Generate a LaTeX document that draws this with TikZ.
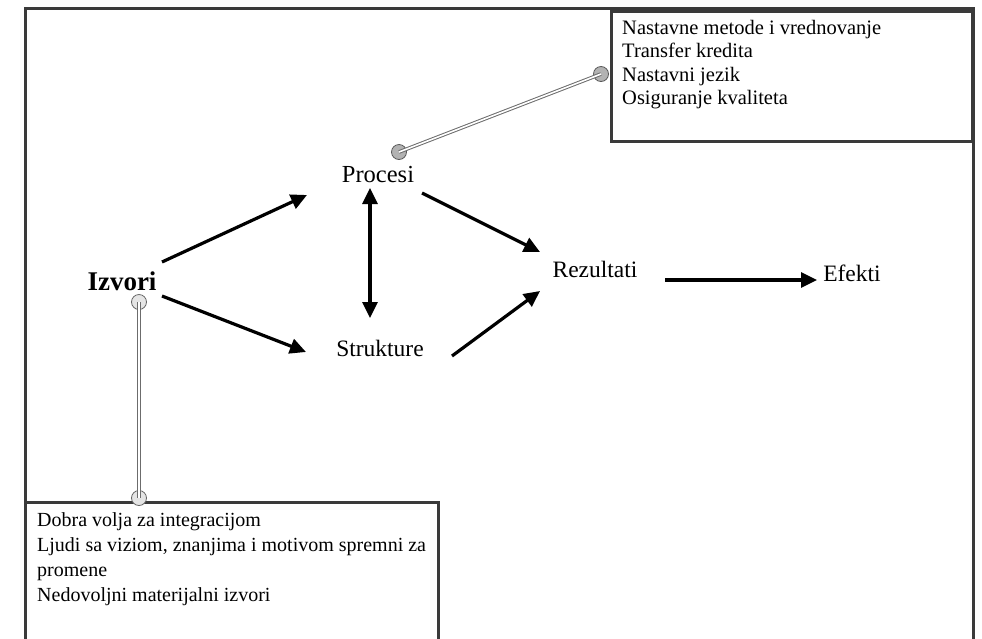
\documentclass[tikz,border=0pt]{standalone}
\usepackage{fontspec}
\setmainfont{Liberation Serif}
\usetikzlibrary{arrows.meta}
\definecolor{frame}{HTML}{3A3A3A}
\tikzset{
  lbl/.style={inner sep=0pt, font=\fontsize{23.5}{27}\selectfont},
  arr/.style={line width=3.2pt, -{Triangle[length=16pt,width=15pt]}},
  darr/.style={line width=3.2pt, {Triangle[length=16pt,width=15pt]}-{Triangle[length=16pt,width=15pt]}},
  conn/.style={draw=gray!85!black, line width=1pt, double=white, double distance=1.6pt},
  dotA/.style={circle, draw=gray!70!black, line width=0.8pt, fill=gray!60, minimum size=15pt, inner sep=0pt},
  dotB/.style={circle, draw=gray!80!black, line width=0.8pt, fill=gray!20, minimum size=15pt, inner sep=0pt},
  boxtxt/.style={anchor=north west, align=left, inner sep=0pt},
}
\begin{document}
\begin{tikzpicture}[x=1pt,y=-1pt]
\useasboundingbox (0,0) rectangle (982,638);
% outer frame
\draw[frame, line width=3pt] (25,645) -- (25,8) -- (973,8) -- (973,645);
% top right box
\draw[frame, line width=3pt, fill=white] (611,11) rectangle (972,141);
\node[boxtxt, font=\fontsize{20.5}{23.3}\selectfont] (tb) at (622,20) {Nastavne metode i vrednovanje\\Transfer kredita\\Nastavni jezik\\Osiguranje kvaliteta};
% bottom box
\draw[frame, line width=3pt, fill=white] (25,645) -- (25,502) -- (438,502) -- (438,645);
\node[boxtxt, font=\fontsize{20}{25}\selectfont] (bb) at (37,512) {Dobra volja za integracijom\\Ljudi sa viziom, znanjima i motivom spremni za\\promene\\Nedovoljni materijalni izvori};
% labels
\node[lbl, font=\fontsize{27}{30}\selectfont\bfseries] (izv) at (122,281) {Izvori};
\node[lbl, font=\fontsize{24.5}{28}\selectfont] (pro) at (378,175) {Procesi};
\node[lbl] (str) at (380,348) {Strukture};
\node[lbl] (rez) at (595,269) {Rezultati};
\node[lbl] (efk) at (852,273) {Efekti};
% coordinates for arrows
\coordinate (a1s) at (162,262); \coordinate (a1e) at (307,195);
\coordinate (a2s) at (162,296); \coordinate (a2e) at (306,352);
\coordinate (a3s) at (370,188); \coordinate (a3e) at (370,318);
\coordinate (a4s) at (422,193); \coordinate (a4e) at (540,252);
\coordinate (a5s) at (452,356); \coordinate (a5e) at (540,291);
\coordinate (a6s) at (665,280); \coordinate (a6e) at (817,280);
\draw[arr] (a1s) -- (a1e);
\draw[arr] (a2s) -- (a2e);
\draw[darr] (a3s) -- (a3e);
\draw[arr] (a4s) -- (a4e);
\draw[arr] (a5s) -- (a5e);
\draw[arr] (a6s) -- (a6e);
% grey connectors
\node[dotA] (d1) at (399,152) {};
\node[dotA] (d2) at (601,74) {};
\node[dotB] (d3) at (139,302) {};
\node[dotB] (d4) at (139,498) {};
\draw[conn] (d1.center) -- (d2.center);
\draw[conn] (d3.center) -- (d4.center);
\end{tikzpicture}
\end{document}
